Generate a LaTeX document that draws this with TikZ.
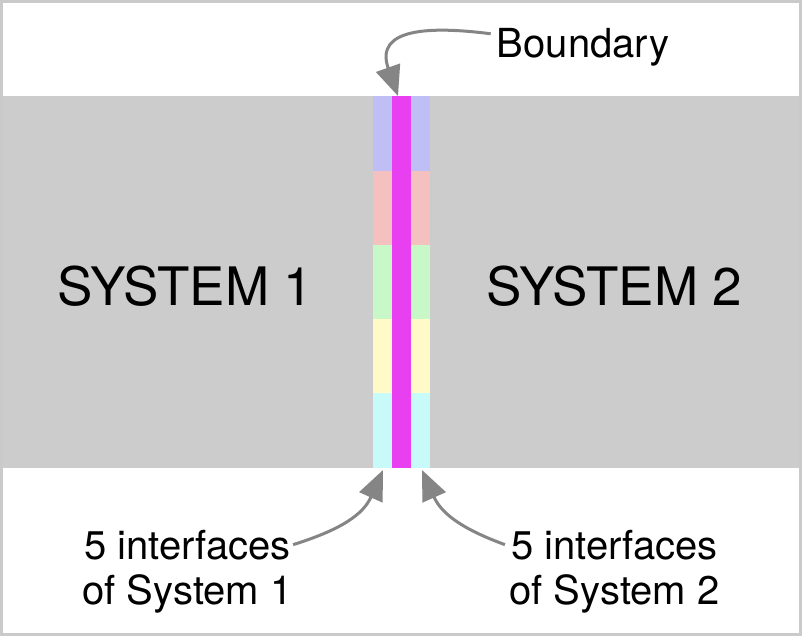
\documentclass[tikz,border=0pt]{standalone}
\usepackage{fontspec}
\setmainfont{TeX Gyre Heros}
\usetikzlibrary{arrows.meta}
\definecolor{sysgray}{HTML}{CCCCCC}
\definecolor{framegray}{HTML}{CACACA}
\definecolor{lav}{HTML}{BFBFF5}
\definecolor{pinkc}{HTML}{F4C0C0}
\definecolor{greenc}{HTML}{C8F8C8}
\definecolor{yellowc}{HTML}{FFFAC8}
\definecolor{cyanc}{HTML}{C8FAFA}
\definecolor{magc}{HTML}{E840F0}
\definecolor{arrowgray}{HTML}{858585}
\tikzset{
  big/.style={font=\fontsize{53}{60}\selectfont, anchor=base, inner sep=0pt},
  lbl/.style={font=\fontsize{40}{45}\selectfont, anchor=base, inner sep=0pt},
  conn/.style={draw=arrowgray, line width=3pt, -{Triangle[length=30pt,width=25pt]}},
}
\begin{document}
\begin{tikzpicture}[x=1pt,y=-1pt]
\useasboundingbox (0,0) rectangle (802,636);
\fill[white] (0,0) rectangle (802,636);
% systems band
\fill[sysgray] (0,96) rectangle (802,468);
% interface strips
\fill[lav]     (373,96)  rectangle (430,171);
\fill[pinkc]   (373,171) rectangle (430,245);
\fill[greenc]  (373,245) rectangle (430,319);
\fill[yellowc] (373,319) rectangle (430,393);
\fill[cyanc]   (373,393) rectangle (430,468);
% boundary
\fill[magc] (392,96) rectangle (411,468);
% frame
\draw[framegray, line width=3pt] (1.5,1.5) rectangle (800.5,634.5);
% texts
\node[big] (s1) at (185.5,305.5) {SYSTEM 1};
\node[big] (s2) at (614.5,305.5) {SYSTEM 2};
\node[lbl] (bd) at (583,58) {Boundary};
\node[lbl] (i1a) at (187.5,559) {5 interfaces};
\node[lbl] (i1b) at (187.5,604) {of System 1};
\node[lbl] (i2a) at (614.5,559) {5 interfaces};
\node[lbl] (i2b) at (614.5,604) {of System 2};
% connector ends
\coordinate (btip) at (398,96);
\coordinate (l1tip) at (383,470);
\coordinate (l2tip) at (422,470);
\draw[conn] (bd.west) ++(-6,-14) .. controls (430,26) and (374,28) .. (btip);
\draw[conn] (i1a.east) ++(2,0) .. controls (340,530) and (363,515) .. (l1tip);
\draw[conn] (i2a.west) ++(-6,0) .. controls (465,530) and (442,515) .. (l2tip);
\end{tikzpicture}
\end{document}
